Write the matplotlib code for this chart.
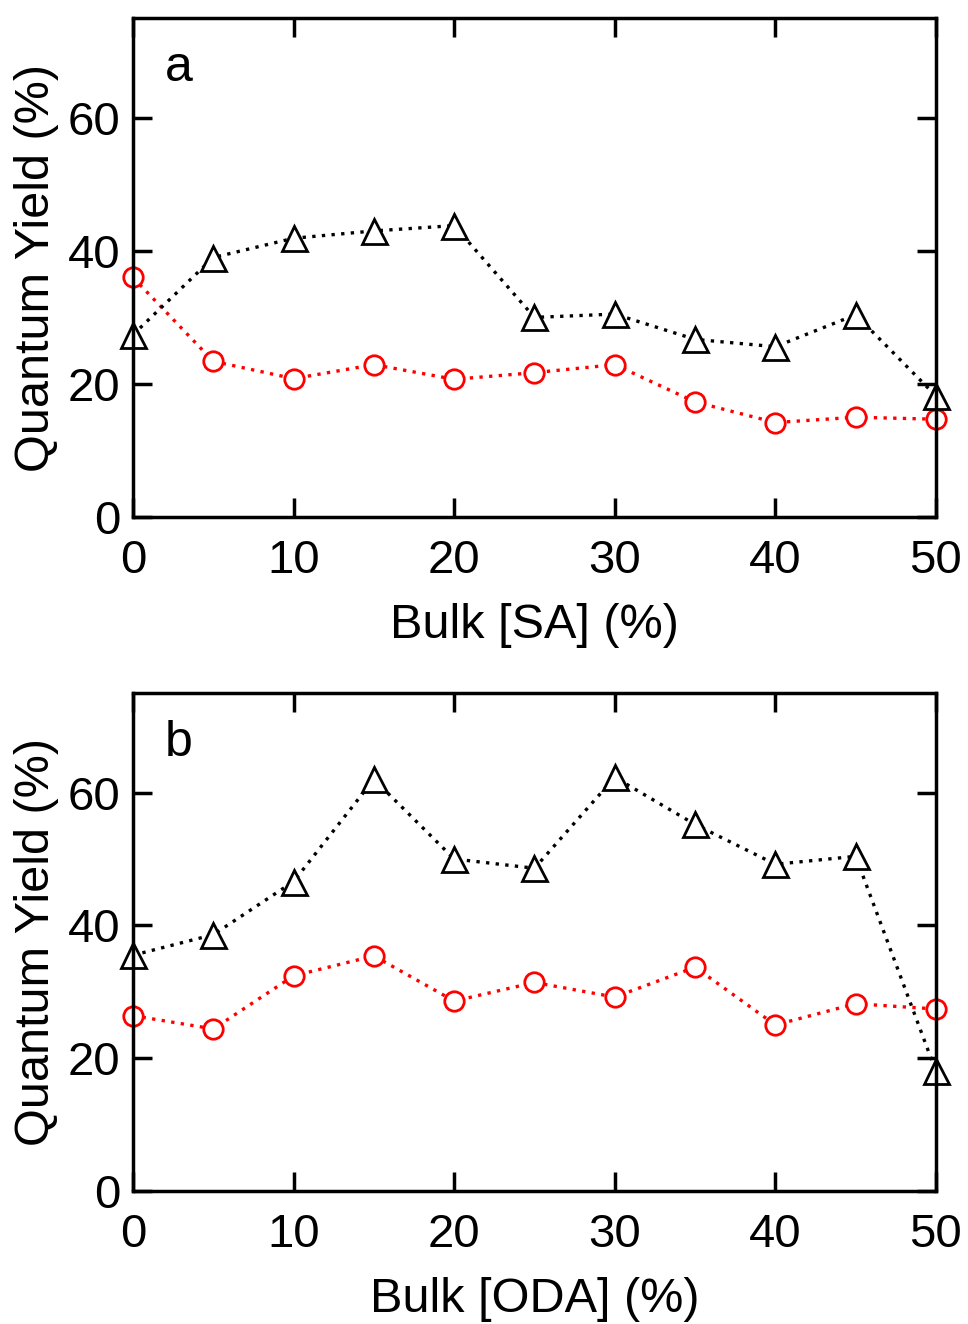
import numpy as np
import matplotlib
matplotlib.use('agg')
import matplotlib.pyplot as plt

plt.rcParams['font.family'] = ['Liberation Sans', 'DejaVu Sans']

## Datos
bulk = [0, 5, 10, 15, 20, 25, 30, 35, 40, 45, 50]

qy_tri_SA  = [27.4, 39.0, 41.9, 43.0, 43.8, 30.0, 30.5, 26.7, 25.6, 30.4, 18.2]
qy_circ_SA = [36.0, 23.4, 20.8, 22.9, 20.7, 21.7, 22.9, 17.3, 14.2, 15.0, 14.7]

qy_tri_ODA  = [35.5, 38.6, 46.6, 62.0, 50.0, 48.6, 62.3, 55.2, 49.2, 50.4, 18.0]
qy_circ_ODA = [26.4, 24.4, 32.4, 35.4, 28.6, 31.4, 29.2, 33.7, 25.0, 28.2, 27.4]

paneles = ['a', 'b']
xlabels = ['Bulk [SA] (%)', 'Bulk [ODA] (%)']
ylabel = 'Quantum Yield (%)'

fig = plt.figure(figsize=(9.68, 13.24), dpi=100)
ax_a = fig.add_axes([0.1374, 0.6095, 0.8295, 0.3769])
ax_b = fig.add_axes([0.1374, 0.1005, 0.8295, 0.3761])

dotted = (0, (1, 1.9))

for ax, tri, circ, letra, xl in zip([ax_a, ax_b],
                                    [qy_tri_SA, qy_tri_ODA],
                                    [qy_circ_SA, qy_circ_ODA],
                                    paneles, xlabels):
    ax.plot(bulk, circ, color='#ff0000', linestyle=dotted, linewidth=2.4,
            marker='o', markersize=14, markerfacecolor='white',
            markeredgecolor='#ff0000', markeredgewidth=2, clip_on=False)
    ax.plot(bulk, tri, color='black', linestyle=dotted, linewidth=2.4,
            marker='^', markersize=18, markerfacecolor='white',
            markeredgecolor='black', markeredgewidth=2, clip_on=False)

    ax.set_xlim(0, 50)
    ax.set_ylim(0, 75)
    ax.set_xticks([0, 10, 20, 30, 40, 50])
    ax.set_yticks([0, 20, 40, 60])
    ax.tick_params(direction='in', length=14, width=2.5, labelsize=34,
                   top=True, right=True)
    ax.tick_params(axis='x', pad=16)
    ax.tick_params(axis='y', pad=9)
    for s in ax.spines.values():
        s.set_linewidth(2.5)

    ax.set_xlabel(xl, fontsize=35, labelpad=14)
    ax.set_ylabel(ylabel, fontsize=35, labelpad=6)
    ax.text(0.057, 0.9, letra, transform=ax.transAxes, fontsize=36,
            ha='center', va='center')

plt.savefig('out.png', dpi=100)
